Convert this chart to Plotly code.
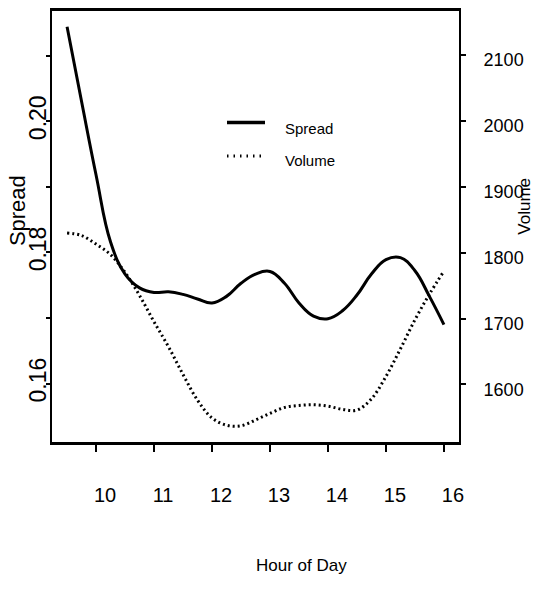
import plotly.graph_objects as go

# ---- data ----
hours = [9.5, 9.75, 10.0, 10.25, 10.5, 10.75, 11.0, 11.25, 11.5, 11.75, 12.0, 12.25, 12.5,
         12.75, 13.0, 13.25, 13.5, 13.75, 14.0, 14.25, 14.5, 14.75, 15.0, 15.25, 15.5, 15.75, 16.0]
spread = [0.2144, 0.2030, 0.1918, 0.1816, 0.1767, 0.1746, 0.1739, 0.1740, 0.1736, 0.1729,
          0.1723, 0.1733, 0.1753, 0.1767, 0.1771, 0.1753, 0.1723, 0.1703, 0.1699, 0.1711,
          0.1735, 0.1767, 0.1789, 0.1792, 0.1772, 0.1733, 0.1690]
volume = [1830, 1826, 1813, 1797, 1770, 1735, 1695, 1657, 1615, 1576, 1549, 1538, 1537,
          1546, 1556, 1565, 1568, 1569, 1567, 1562, 1561, 1578, 1612, 1654, 1698, 1737, 1772]

hour_ticks = [10, 11, 12, 13, 14, 15, 16]
hour_ticktext = ["10", "11", "12", "13", "14", "15", "16"]
spread_ticks = [0.16, 0.17, 0.18, 0.19, 0.20, 0.21]
spread_ticktext = ["0.16", "", "0.18", "", "0.20", ""]
volume_ticks = [1600, 1700, 1800, 1900, 2000, 2100]
volume_ticktext = ["1600", "1700", "1800", "1900", "2000", "2100"]

FONT = "Liberation Sans, Arial, sans-serif"

fig = go.Figure()
fig.add_trace(go.Scatter(x=hours, y=spread, mode="lines", name="Spread",
                         line=dict(color="black", width=3, shape="spline", smoothing=1.2),
                         yaxis="y"))
fig.add_trace(go.Scatter(x=hours, y=volume, mode="lines", name="Volume",
                         line=dict(color="black", width=3, dash="2px,3px", shape="spline"),
                         yaxis="y2"))

W, H = 534, 590
L, R, T, B = 52, 75, 8, 148
pw, ph = W - L - R, H - T - B


def px(x):
    return (x - L) / pw


def py(y):
    return (H - B - y) / ph


fig.update_layout(
    width=W, height=H,
    margin=dict(l=L, r=R, t=T, b=B, pad=0),
    paper_bgcolor="white", plot_bgcolor="white",
    showlegend=False,
    xaxis=dict(range=[9.24, 16.26], tickvals=hour_ticks, ticktext=hour_ticktext,
               ticks="outside", ticklen=7, tickwidth=2, tickcolor="black",
               showline=True, linewidth=3, linecolor="black", mirror=True,
               showgrid=False, zeroline=False,
               tickfont=dict(family=FONT, size=20, color="black"),
               ticklabelstandoff=26, ticklabelshift=9),
    yaxis=dict(range=[0.1511, 0.2168], tickvals=spread_ticks, ticktext=spread_ticktext,
               ticks="outside", ticklen=4, tickwidth=2, tickcolor="black",
               showline=True, linewidth=2, linecolor="black", mirror=True,
               showgrid=False, zeroline=False, tickangle=-90,
               tickfont=dict(family=FONT, size=23, color="black"),
               ticklabelstandoff=-9),
    yaxis2=dict(range=[1512.5, 2167], tickvals=volume_ticks, ticktext=volume_ticktext,
                overlaying="y", side="right",
                ticks="outside", ticklen=6, tickwidth=2, tickcolor="black",
                showline=False, showgrid=False, zeroline=False,
                tickfont=dict(family=FONT, size=18, color="black"),
                ticklabelstandoff=14, ticklabelshift=5),
)

annotations = [
    dict(text="Spread", x=px(17.5), y=py(209), textangle=-90,
         font=dict(family=FONT, size=22, color="black")),
    dict(text="Volume", x=px(525), y=py(205), textangle=-90,
         font=dict(family=FONT, size=17, color="black")),
    dict(text="Hour of Day", x=px(301.5), y=py(566),
         font=dict(family=FONT, size=17, color="black")),
    dict(text="Spread", x=px(283), y=py(126), xanchor="left",
         font=dict(family=FONT, size=15, color="black")),
    dict(text="Volume", x=px(283), y=py(159), xanchor="left",
         font=dict(family=FONT, size=15, color="black")),
]
for a in annotations:
    a.update(xref="paper", yref="paper", showarrow=False)
    a.setdefault("xanchor", "center")
    a.setdefault("yanchor", "middle")
fig.update_layout(annotations=annotations)

fig.update_layout(shapes=[
    dict(type="line", xref="paper", yref="paper", x0=px(227), x1=px(265), y0=py(120.3), y1=py(120.3),
         line=dict(color="black", width=3.5)),
    dict(type="line", xref="paper", yref="paper", x0=px(227), x1=px(265), y0=py(154), y1=py(154),
         line=dict(color="black", width=3, dash="1.5px,5px")),
])

fig.write_html("out.html", config={"displayModeBar": False},
               post_script="document.body.style.margin='0';")
